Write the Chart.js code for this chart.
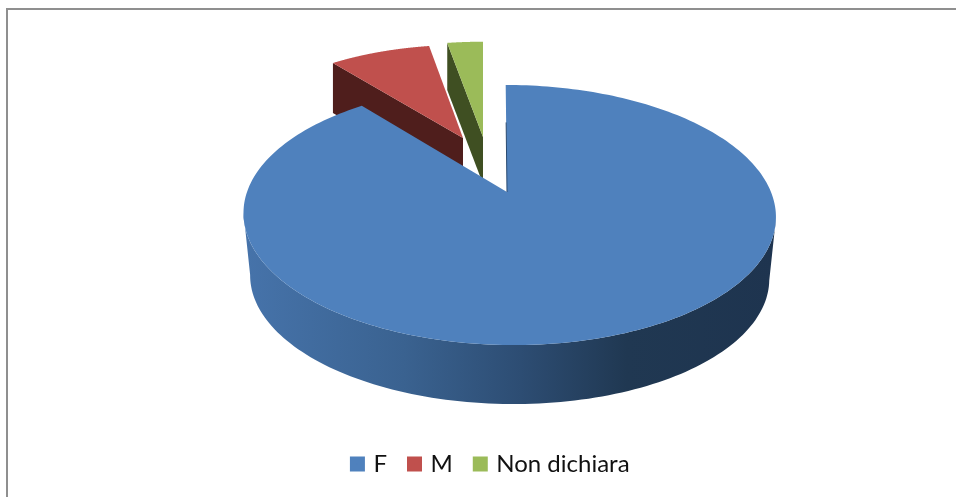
<!DOCTYPE html>
<html>
<head>
<meta charset="utf-8">
<style>html,body{margin:0;padding:0;background:#fff}canvas{display:block}</style>
<script src="https://cdn.jsdelivr.net/npm/chart.js@4"></script>
</head>
<body>
<canvas id="c" width="956" height="497"></canvas>
<script>
const categories = ['F', 'M', 'Non dichiara'];
const values = [89.2, 8.1, 2.7];
const faceColors = ['#4f81bd', '#c0504d', '#9bbb59'];
const wallColors = ['#2a4a70', '#4f1e1c', '#3f4f22'];

// Perspective of the tilted plate, one placement per exploded slice
const tilt = 0.177, planeX = 262, planeY = 126;
const placement = [
  {x: 509, y: 192, sx: 1, sy: 1, skew: 3.9, apexX: 507, depth: 62.8, shrink: 0.975},
  {x: 463, y: 138, sx: 0.9, sy: 0.87, skew: 0, apexX: 463, depth: 50, shrink: 1},
  {x: 483, y: 137, sx: 0.95, sy: 0.89, skew: 0, apexX: 483, depth: 47, shrink: 1}
];

function project(p, angle) {
  const u = Math.cos(angle), v = Math.sin(angle), w = 1 - tilt * v;
  return {
    x: p.x + p.sx * (planeX * u + p.skew * v) / w,
    y: p.y + p.sy * planeY * v / w
  };
}
function lower(p, q) {
  return {x: p.x + p.shrink * (q.x - p.x), y: p.y + p.depth + p.shrink * (q.y - p.y)};
}
function outline(arc, p) {
  const n = 240, pts = [];
  for (let i = 0; i <= n; i++) {
    pts.push(project(p, arc.startAngle + (arc.endAngle - arc.startAngle) * i / n));
  }
  return pts;
}
function fillPoly(ctx, pts, color) {
  ctx.beginPath();
  pts.forEach((q, i) => i ? ctx.lineTo(q.x, q.y) : ctx.moveTo(q.x, q.y));
  ctx.closePath();
  ctx.fillStyle = color;
  ctx.fill();
}

const plate3d = {
  id: 'plate3d',
  beforeDraw(chart) {
    const ctx = chart.ctx;
    ctx.save();
    ctx.strokeStyle = '#8f8f8f';
    ctx.lineWidth = 2;
    ctx.beginPath();
    ctx.moveTo(7, 497);
    ctx.lineTo(7, 9);
    ctx.lineTo(956, 9);
    ctx.stroke();
    ctx.restore();
  },
  beforeDatasetsDraw(chart) {
    const ctx = chart.ctx, arcs = chart.getDatasetMeta(0).data;
    ctx.save();
    // back slices: inner wall, then top face
    [1, 2].forEach(i => {
      const p = placement[i], pts = outline(arcs[i], p), apex = {x: p.apexX, y: p.y};
      const edge = pts[0];
      fillPoly(ctx, [edge, apex, lower(p, apex), lower(p, edge)], wallColors[i]);
      fillPoly(ctx, [apex, ...pts], faceColors[i]);
    });
    // big slice: outer side from right tangent through the front to left tangent
    const p = placement[0], pts = outline(arcs[0], p), apex = {x: p.apexX, y: p.y};
    let r = 0, l = 0;
    pts.forEach((q, i) => {
      if (q.x > pts[r].x) r = i;
      if (q.x < pts[l].x) l = i;
    });
    const top = pts.slice(r, l + 1);
    const side = [...top, ...top.slice().reverse().map(q => lower(p, q))];
    const g = ctx.createLinearGradient(245, 0, 775, 0);
    g.addColorStop(0, '#4673aa');
    g.addColorStop(0.3, '#3a6290');
    g.addColorStop(0.52, '#2d4d73');
    g.addColorStop(0.72, '#203852');
    g.addColorStop(1, '#1e344f');
    fillPoly(ctx, side, g);
    fillPoly(ctx, [apex, ...pts], faceColors[0]);
    // start wall of the big slice, seen almost edge-on
    ctx.strokeStyle = wallColors[0];
    ctx.lineWidth = 1;
    ctx.beginPath();
    ctx.moveTo(pts[0].x + 0.35 * (apex.x - pts[0].x), pts[0].y + 0.35 * (apex.y - pts[0].y));
    ctx.lineTo(apex.x, apex.y);
    ctx.stroke();
    ctx.restore();
    return false;
  }
};

new Chart(document.getElementById('c'), {
  type: 'pie',
  data: {
    labels: categories,
    datasets: [{data: values, backgroundColor: faceColors, borderWidth: 0}]
  },
  plugins: [plate3d],
  options: {
    responsive: false,
    animation: false,
    layout: {padding: {left: 27, bottom: 11}},
    plugins: {
      tooltip: {enabled: false},
      legend: {
        position: 'bottom',
        labels: {
          boxWidth: 8,
          boxHeight: 8,
          padding: 23.5,
          color: '#111',
          font: {family: 'Lato', size: 24},
          generateLabels(chart) {
            return Chart.overrides.pie.plugins.legend.labels.generateLabels(chart)
              .map(it => ({...it, strokeStyle: it.fillStyle, lineWidth: 7}));
          }
        }
      }
    }
  }
});
</script>
</body>
</html>
